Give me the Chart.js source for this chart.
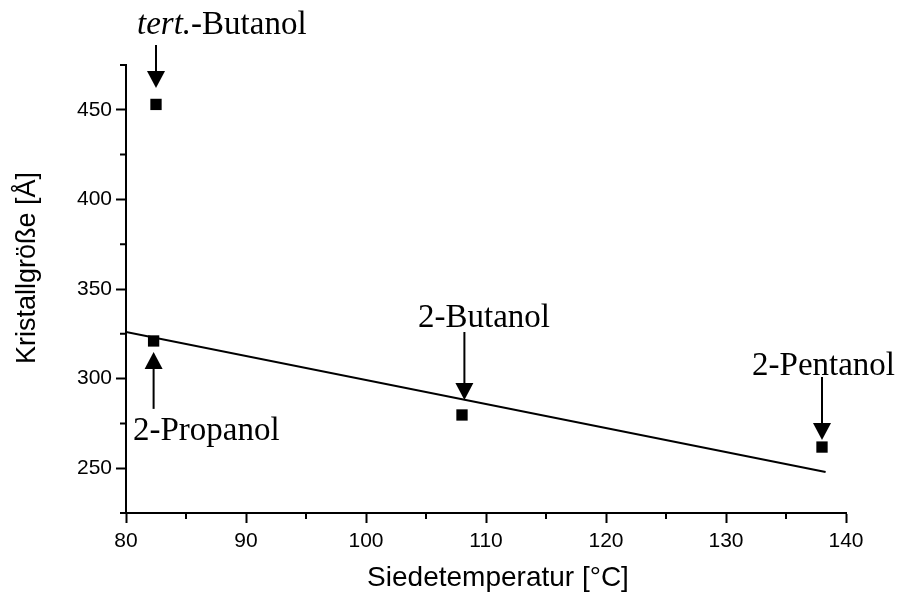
<!DOCTYPE html>
<html>
<head>
<meta charset="utf-8">
<script src="https://cdn.jsdelivr.net/npm/chart.js@4/dist/chart.umd.min.js"></script>
<style>
 body { margin: 0; background: #fff; }
</style>
</head>
<body>
<canvas id="miGrafico" width="900" height="595"></canvas>
<script>
// messwerte
const siedeTemp = [82.5, 82.3, 108, 138];
const kristallGroesse = [453, 321, 279.7, 261.8];

// ausgleichsgerade
const geradeX = [80, 138.3];
const geradeY = [326, 247.9];

// beschriftungen mit pfeil (datenkoordinaten)
const namen = ['tert.', '2-Propanol', '2-Butanol', '2-Pentanol'];
const textX = [80.92, 80.58, 104.33, 132.17];
const textY = [492.3, 265.7, 328.8, 302];
const pfeilX = [82.5, 82.3, 108.2, 138];
const pfeilVon = [486.1, 283.1, 326, 300.9];
const pfeilBis = [462.2, 314.8, 288.1, 265.7];

const xTitel = 'Siedetemperatur [°C]';
const yTitel = 'Kristallgröße [Å]';

const xMin = 80, xMax = 140, xStep = 5;
const yMin = 225, yMax = 475, yStep = 25;

var ctx = document.getElementById('miGrafico').getContext('2d');

const anmerkungen = {
 id: 'anmerkungen',
 afterDatasetsDraw(chart) {
  const c = chart.ctx;
  const sx = chart.scales.x, sy = chart.scales.y;
  c.save();
  c.strokeStyle = '#000';
  c.fillStyle = '#000';
  c.lineWidth = 2;

  // kleine zwischenstriche
  c.beginPath();
  for (let v = xMin; v <= xMax; v += xStep) {
   if (v % 10 === 0) continue;
   const px = sx.getPixelForValue(v);
   c.moveTo(px, sy.bottom);
   c.lineTo(px, sy.bottom + 6);
  }
  for (let v = yMin; v <= yMax; v += yStep) {
   if (v % 50 === 0) continue;
   const py = sy.getPixelForValue(v);
   c.moveTo(sx.left - 6, py);
   c.lineTo(sx.left, py);
  }
  c.stroke();

  // pfeile
  for (let i = 0; i < pfeilX.length; i++) {
   const px = sx.getPixelForValue(pfeilX[i]);
   const p0 = sy.getPixelForValue(pfeilVon[i]);
   const p1 = sy.getPixelForValue(pfeilBis[i]);
   const dir = p1 > p0 ? 1 : -1;
   c.beginPath();
   c.moveTo(px, p0);
   c.lineTo(px, p1 - dir * 14);
   c.stroke();
   c.beginPath();
   c.moveTo(px, p1);
   c.lineTo(px - 9, p1 - dir * 17);
   c.lineTo(px + 9, p1 - dir * 17);
   c.closePath();
   c.fill();
  }

  // texte
  c.textBaseline = 'alphabetic';
  c.textAlign = 'left';
  for (let i = 0; i < namen.length; i++) {
   let px = sx.getPixelForValue(textX[i]);
   const py = sy.getPixelForValue(textY[i]);
   if (i === 0) {
    c.font = 'italic 33px "Liberation Serif"';
    c.fillText(namen[i], px, py);
    px += c.measureText(namen[i]).width;
    c.font = '33px "Liberation Serif"';
    c.fillText('-Butanol', px, py);
   } else {
    c.font = '33px "Liberation Serif"';
    c.fillText(namen[i], px, py);
   }
  }

  // achsentitel
  c.textAlign = 'center';
  c.textBaseline = 'middle';
  c.font = '28px "Liberation Sans"';
  c.fillText(xTitel, (sx.left + sx.right) / 2 + 12, sx.bottom - 17);
  c.translate(28, (sy.top + sy.bottom) / 2 - 21);
  c.rotate(-Math.PI / 2);
  c.font = '27px "Liberation Sans"';
  c.fillText(yTitel, 0, 0);
  c.restore();
 }
};

var chart = new Chart(ctx, {
 type: 'scatter',
 data: {
  datasets: [{
   label: 'Kristallgröße',
   data: siedeTemp.map((t, i) => ({x: t, y: kristallGroesse[i]})),
   pointStyle: 'rect',
   pointRadius: 8,
   pointHoverRadius: 8,
   backgroundColor: '#000',
   borderWidth: 0
  },
  {
   label: 'Ausgleich',
   type: 'line',
   data: geradeX.map((t, i) => ({x: t, y: geradeY[i]})),
   borderColor: '#000',
   borderWidth: 2,
   pointRadius: 0,
   fill: false
  }]
 },
 options: {
  responsive: false,
  animation: false,
  layout: { padding: { top: 65, right: 54, left: 0, bottom: 0 } },
  plugins: { legend: { display: false }, tooltip: { enabled: false } },
  scales: {
   x: {
    type: 'linear',
    min: xMin, max: xMax,
    afterFit: s => { s.height = 82; },
    border: { color: '#000', width: 2 },
    grid: {
     drawOnChartArea: false,
     tickLength: 10,
     tickWidth: 2,
     tickColor: c => c.tick && c.tick.value % 10 === 0 ? '#000' : 'rgba(0,0,0,0)'
    },
    ticks: {
     stepSize: xStep,
     autoSkip: false,
     maxRotation: 0,
     padding: 6,
     color: '#000',
     font: { family: '"Liberation Sans"', size: 21 },
     callback: v => v % 10 === 0 ? v : ''
    }
   },
   y: {
    min: yMin, max: yMax,
    afterFit: s => { s.width = 126; },
    border: { color: '#000', width: 2 },
    grid: {
     drawOnChartArea: false,
     tickLength: 10,
     tickWidth: 2,
     tickColor: c => c.tick && c.tick.value % 50 === 0 ? '#000' : 'rgba(0,0,0,0)'
    },
    ticks: {
     stepSize: yStep,
     autoSkip: false,
     padding: 4,
     color: '#000',
     font: { family: '"Liberation Sans"', size: 21 },
     callback: v => v % 50 === 0 ? v : ''
    }
   }
  }
 },
 plugins: [anmerkungen]
});
</script>
</body>
</html>
